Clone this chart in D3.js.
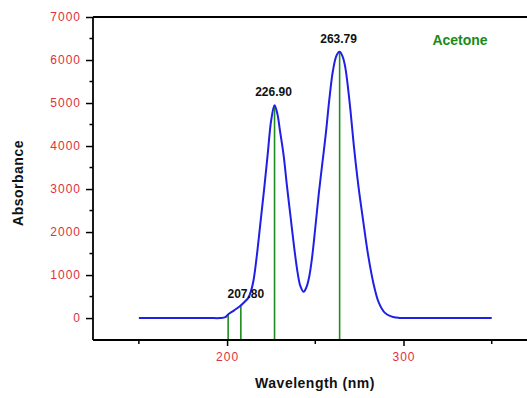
<!DOCTYPE html>
<html>
<head>
<meta charset="utf-8">
<script src="https://cdn.jsdelivr.net/npm/d3@7"></script>
<style>
  body { margin: 0; background: #fff; }
  svg { display: block; font-family: Arial, "Liberation Sans", sans-serif; }
</style>
</head>
<body>
<div id="chart"></div>
<script>
// spectrum (wavelength nm, absorbance)
const wavelengths = [150, 170, 190, 196, 199, 200.7, 204, 207.4, 210, 212, 213.5, 215, 217, 219, 221, 223, 225, 226.9, 228.5, 230, 232, 234, 236, 238, 240, 241.5, 243.4, 245, 246.5, 248, 250, 252, 254, 256, 258, 260, 262, 263.79, 265.5, 267, 269.5, 272, 274.5, 277, 280, 283, 286, 289.5, 293, 297, 300, 320, 350];
const absorbance = [0, 0, 0, 0, 20, 90, 180, 280, 380, 470, 620, 880, 1500, 2250, 3000, 3800, 4600, 4950, 4750, 4350, 3800, 3050, 2350, 1650, 1050, 750, 612, 720, 950, 1350, 2100, 2900, 3600, 4300, 5100, 5750, 6100, 6190, 6080, 5830, 5000, 3950, 3050, 2300, 1450, 800, 360, 120, 40, 5, 0, 0, 0];

// marked peaks (green sticks)
const peakWl = [200.6, 207.8, 226.9, 263.79];
const peakAbs = [90, 290, 4950, 6190];
const peakLabels = ["", "207.80", "226.90", "263.79"];

const yTicks = [0, 1000, 2000, 3000, 4000, 5000, 6000, 7000];
const xTicks = [200, 300];

const width = 527, height = 398;
const margin = { top: 17, right: 0, bottom: 58, left: 93 };

const svg = d3.select("#chart").append("svg")
  .attr("width", width)
  .attr("height", height);

const x = d3.scaleLinear().domain([124, 370]).range([margin.left, width - margin.right]);
const y = d3.scaleLinear().domain([-510, 7000]).range([height - margin.bottom, margin.top]);

const spectrum = wavelengths.map((w, i) => ({ w, a: absorbance[i] }));

// green peak sticks
svg.append("g").selectAll("line")
  .data(peakWl)
  .join("line")
  .attr("x1", (d) => x(d)).attr("x2", (d) => x(d))
  .attr("y1", y(-510)).attr("y2", (d, i) => y(peakAbs[i]))
  .attr("stroke", "#1e8c1e")
  .attr("stroke-width", 1.6);

// blue curve
const line = d3.line()
  .x((d) => x(d.w))
  .y((d) => y(d.a))
  .curve(d3.curveCatmullRom.alpha(0.5));

svg.append("path")
  .datum(spectrum)
  .attr("fill", "none")
  .attr("stroke", "#1f1fe6")
  .attr("stroke-width", 2)
  .attr("d", line);

// y axis
const yAxis = svg.append("g")
  .attr("transform", `translate(${margin.left},0)`)
  .call(d3.axisLeft(y).tickValues(yTicks).tickSize(7).tickPadding(5).tickFormat(d3.format("d")));
yAxis.append("g").selectAll("line")
  .data(d3.range(500, 7000, 1000))
  .join("line")
  .attr("x1", -3.5).attr("x2", 0)
  .attr("y1", (d) => y(d)).attr("y2", (d) => y(d))
  .attr("stroke", "#000").attr("stroke-width", 1.5);

// x axis
const xAxis = svg.append("g")
  .attr("transform", `translate(0,${height - margin.bottom})`)
  .call(d3.axisBottom(x).tickValues(xTicks).tickSize(6).tickPadding(6));
xAxis.append("g").selectAll("line")
  .data([150, 250, 350])
  .join("line")
  .attr("x1", (d) => x(d)).attr("x2", (d) => x(d))
  .attr("y1", 0).attr("y2", 4)
  .attr("stroke", "#000").attr("stroke-width", 1.5);

[yAxis, xAxis].forEach((g) => {
  g.select(".domain").attr("stroke", "#000").attr("stroke-width", 1.8)
    .attr("d", g === yAxis
      ? `M0,${y(-510)}V${margin.top}`
      : `M${margin.left},0H${width}`);
  g.selectAll(".tick line").attr("stroke", "#000").attr("stroke-width", 1.5);
  g.selectAll(".tick text")
    .attr("fill", "#e0313c")
    .style("font-size", "12px")
    .style("letter-spacing", "1px");
});

// top frame line
svg.append("line")
  .attr("x1", margin.left).attr("x2", width)
  .attr("y1", margin.top).attr("y2", margin.top)
  .attr("stroke", "#000").attr("stroke-width", 1.8);

// peak labels
svg.append("g").selectAll("text")
  .data(peakLabels)
  .join("text")
  .attr("x", (d, i) => x(peakWl[i]) + (i === 1 ? 5 : -1))
  .attr("y", (d, i) => y(peakAbs[i]) - (i === 1 ? 8 : 9))
  .attr("text-anchor", "middle")
  .attr("fill", "#111")
  .style("font-size", "12px")
  .style("font-weight", "bold")
  .text((d) => d);

svg.append("text")
  .attr("x", 460).attr("y", 45)
  .attr("text-anchor", "middle")
  .attr("fill", "#1a8a1a")
  .style("font-size", "14px")
  .style("font-weight", "bold")
  .text("Acetone");

svg.append("text")
  .attr("x", 315).attr("y", 388)
  .attr("text-anchor", "middle")
  .attr("fill", "#111")
  .style("font-size", "14px")
  .style("font-weight", "bold")
  .style("letter-spacing", "0.5px")
  .text("Wavelength (nm)");

svg.append("text")
  .attr("transform", "rotate(-90)")
  .attr("x", -183).attr("y", 23)
  .attr("text-anchor", "middle")
  .attr("fill", "#111")
  .style("font-size", "14px")
  .style("font-weight", "bold")
  .style("letter-spacing", "0.5px")
  .text("Absorbance");
</script>
</body>
</html>
